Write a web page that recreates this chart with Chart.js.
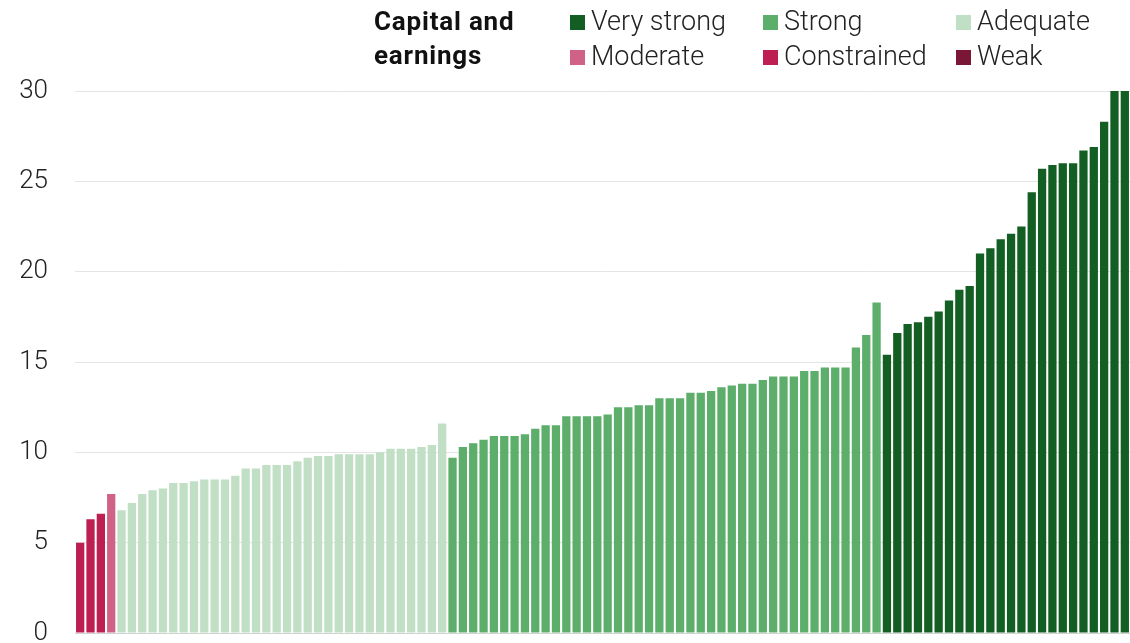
<!DOCTYPE html>
<html>
<head>
<meta charset="utf-8">
<script src="https://cdn.jsdelivr.net/npm/chart.js@4.4.1/dist/chart.umd.min.js"></script>
<style>
  body { margin: 0; background: #fff; }
  #wrap { position: relative; width: 1130px; height: 643px; overflow: hidden; }
  #title { position: absolute; left: 374px; top: 4px; font: 700 26px "Roboto", "Liberation Sans", sans-serif; letter-spacing: 0.8px; line-height: 34px; color: #111; }
  .item { position: absolute; font: 300 27px "Roboto", "Liberation Sans", sans-serif; color: #222; white-space: nowrap; line-height: 30px; }
  .item i { display: inline-block; width: 15px; height: 15px; margin-right: 6px; vertical-align: 0px; }
</style>
</head>
<body>
<div id="wrap">
  <canvas id="myChart" width="1130" height="643"></canvas>
  <div id="title">Capital and<br>earnings</div>
  <div id="legend"></div>
</div>
<script>
// bank scores, sorted, split by assessment
const constrained = [5.0, 6.3, 6.6];
const moderate = [7.7];
const adequate = [6.8, 7.2, 7.7, 7.9, 8.0, 8.3, 8.3, 8.4, 8.5, 8.5, 8.5, 8.7, 9.1, 9.1, 9.3, 9.3,
  9.3, 9.5, 9.7, 9.8, 9.8, 9.9, 9.9, 9.9, 9.9, 10.0, 10.2, 10.2, 10.2, 10.3, 10.4, 11.6];
const strong = [9.7, 10.3, 10.5, 10.7, 10.9, 10.9, 10.9, 11.0, 11.3, 11.5, 11.5, 12.0, 12.0, 12.0,
  12.0, 12.1, 12.5, 12.5, 12.6, 12.6, 13.0, 13.0, 13.0, 13.3, 13.3, 13.4, 13.6, 13.7, 13.8, 13.8,
  14.0, 14.2, 14.2, 14.2, 14.5, 14.5, 14.7, 14.7, 14.7, 15.8, 16.5, 18.3];
const veryStrong = [15.4, 16.6, 17.1, 17.2, 17.5, 17.8, 18.4, 19.0, 19.2, 21.0, 21.3, 21.8, 22.1,
  22.5, 24.4, 25.7, 25.9, 26.0, 26.0, 26.7, 26.9, 28.3, 30.6, 32.0];
const weak = [];
const yTicks = [0, 5, 10, 15, 20, 25, 30];

// drawing order left to right
const groups = [
  { label: 'Weak', data: weak, color: '#7a1636' },
  { label: 'Constrained', data: constrained, color: '#be1f53' },
  { label: 'Moderate', data: moderate, color: '#d16287' },
  { label: 'Adequate', data: adequate, color: '#c0dfc5' },
  { label: 'Strong', data: strong, color: '#5dad6b' },
  { label: 'Very strong', data: veryStrong, color: '#135e22' }
];

const total = groups.reduce((n, g) => n + g.data.length, 0);
const labels = [];
for (let i = 1; i <= total; i++) labels.push(String(i));

let start = 0;
const datasets = groups.map(g => {
  const arr = new Array(total).fill(null);
  g.data.forEach((v, i) => { arr[start + i] = v; });
  start += g.data.length;
  return {
    label: g.label,
    data: arr,
    backgroundColor: g.color,
    grouped: false,
    barPercentage: 1,
    categoryPercentage: 0.8,
    clip: 0
  };
});

// legend layout like the original: 3 columns, 2 rows
const legendItems = [
  ['Very strong', 570, 6], ['Strong', 763, 6], ['Adequate', 956, 6],
  ['Moderate', 570, 41], ['Constrained', 763, 41], ['Weak', 956, 41]
];
const legend = document.getElementById('legend');
legendItems.forEach(([name, x, y]) => {
  const g = groups.find(d => d.label === name);
  const el = document.createElement('div');
  el.className = 'item';
  el.style.left = x + 'px';
  el.style.top = y + 'px';
  el.innerHTML = '<i style="background:' + g.color + '"></i>' + name;
  legend.appendChild(el);
});

const ctx = document.getElementById('myChart');
new Chart(ctx, {
  type: 'bar',
  data: { labels: labels, datasets: datasets },
  options: {
    responsive: false,
    animation: false,
    devicePixelRatio: 1,
    layout: { padding: { top: 91, bottom: 10, left: 0, right: 0 } },
    plugins: { legend: { display: false }, tooltip: { enabled: false } },
    scales: {
      x: { display: false },
      y: {
        min: 0,
        max: 30,
        afterFit: function (scale) {
          scale.width = 75;
          // tick padding is only meant horizontally here
          scale.paddingTop = 0;
          scale.paddingBottom = 0;
        },
        afterBuildTicks: function (scale) { scale.ticks = yTicks.map(v => ({ value: v })); },
        border: { display: false },
        grid: {
          drawTicks: false,
          color: c => c.tick && c.tick.value === 0 ? '#d2d2d2' : '#e4e4e4',
          lineWidth: 1
        },
        ticks: {
          padding: 27,
          color: '#222',
          font: { family: 'Roboto, "Liberation Sans", sans-serif', size: 26, weight: 300 }
        }
      }
    }
  }
});
</script>
</body>
</html>
